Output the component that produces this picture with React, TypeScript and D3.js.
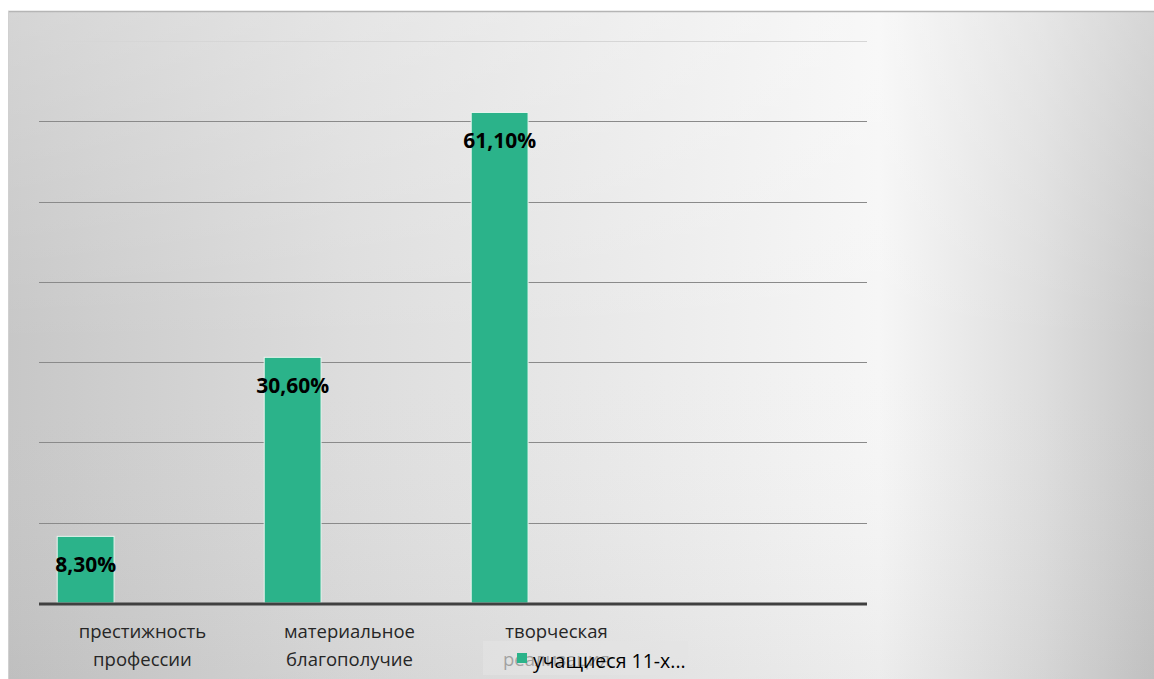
import React from 'react';
import * as d3 from 'd3';

const categories = ['престижность профессии', 'материальное благополучие', 'творческая реализация', ''];
const values = [8.3, 30.6, 61.1, null];
const valueLabels = ['8,30%', '30,60%', '61,10%', ''];
const seriesName = 'учащиеся 11-х...';
const gridTicks = [0, 10, 20, 30, 40, 50, 60, 70];

const W = 1154;
const H = 679;
const margin = { top: 41, right: 287, bottom: 76, left: 39 };

const App: React.FC = () => {
  const x = d3.scaleBand<number>()
    .domain(categories.map((_, i) => i))
    .range([margin.left, W - margin.right]);

  // three slots per category, only the first series is shown
  const slot = d3.scaleBand<number>()
    .domain([0, 1, 2])
    .range([0, x.bandwidth()])
    .paddingOuter(0.32)
    .paddingInner(0);

  const y = d3.scaleLinear().domain([0, 70]).range([H - margin.bottom, margin.top]);

  return (
    <div style={{ position: 'absolute', left: 0, top: 0 }}>
      <svg width={W} height={H} style={{ display: 'block' }}>
        <defs>
          <linearGradient id="bgH" x1="0" x2="1" y1="0" y2="0">
            <stop offset="0" stopColor="#c7c7c7" />
            <stop offset="0.3" stopColor="#dddddd" />
            <stop offset="0.76" stopColor="#f6f6f6" />
            <stop offset="0.9" stopColor="#dedede" />
            <stop offset="1" stopColor="#c8c8c8" />
          </linearGradient>
          <linearGradient id="bgV" x1="0" x2="0" y1="0" y2="1">
            <stop offset="0" stopColor="#ffffff" stopOpacity={0.25} />
            <stop offset="0.5" stopColor="#ffffff" stopOpacity={0} />
            <stop offset="1" stopColor="#000000" stopOpacity={0.04} />
          </linearGradient>
        </defs>
        <rect x={0} y={0} width={W} height={H} fill="#ffffff" />
        <rect x={8} y={11} width={W - 8} height={H - 11} fill="url(#bgH)" />
        <rect x={8} y={11} width={W - 8} height={H - 11} fill="url(#bgV)" />
        <line x1={8} x2={W} y1={11.5} y2={11.5} stroke="#b5b5b5" strokeWidth={1.5} />
        <line x1={8.5} x2={8.5} y1={11} y2={H} stroke="#d0d0d0" strokeWidth={1} />

        {gridTicks.filter(t => t > 0).map(t => (
          <line key={t} x1={margin.left} x2={W - margin.right} y1={Math.round(y(t)) + 0.5} y2={Math.round(y(t)) + 0.5}
            stroke={t === 70 ? '#d6d6d6' : '#8a8a8a'} strokeWidth={1.2} />
        ))}

        {values.map((v, i) => v == null ? null : (
          <g key={i}>
            <rect
              x={x(i)! + slot(0)!}
              y={y(v)}
              width={slot.bandwidth()}
              height={y(0) - y(v)}
              fill="#2bb38a"
              stroke="#e8f5ef"
              strokeWidth={1}
            />
            <text
              x={x(i)! + slot(0)! + slot.bandwidth() / 2}
              y={y(v) + 28}
              dy="0.35em"
              textAnchor="middle"
              fontFamily="'Open Sans', sans-serif"
              fontWeight={700}
              fontSize={21}
              fill="#000"
            >{valueLabels[i]}</text>
          </g>
        ))}

        <line x1={margin.left} x2={W - margin.right} y1={y(0) + 1} y2={y(0) + 1} stroke="#404040" strokeWidth={3} />

        {categories.map((c, i) => {
          const words = c.split(' ');
          return (
            <text key={i} x={x(i)! + x.bandwidth() / 2} y={638} textAnchor="middle"
              fontFamily="'Open Sans', sans-serif" fontSize={18.5} fill="#262626">
              {words.map((w, j) => (
                <tspan key={j} x={x(i)! + x.bandwidth() / 2} dy={j === 0 ? 0 : 28}>{w}</tspan>
              ))}
            </text>
          );
        })}

        <g>
          <rect x={483} y={641} width={205} height={34} fill="#e3e3e3" fillOpacity={0.65} />
          <rect x={517} y={653} width={10} height={10} fill="#2bb38a" />
          <text x={533} y={668} fontFamily="'Open Sans', sans-serif" fontSize={19.5} fill="#000">{seriesName}</text>
        </g>
      </svg>
    </div>
  );
};

export default App;
